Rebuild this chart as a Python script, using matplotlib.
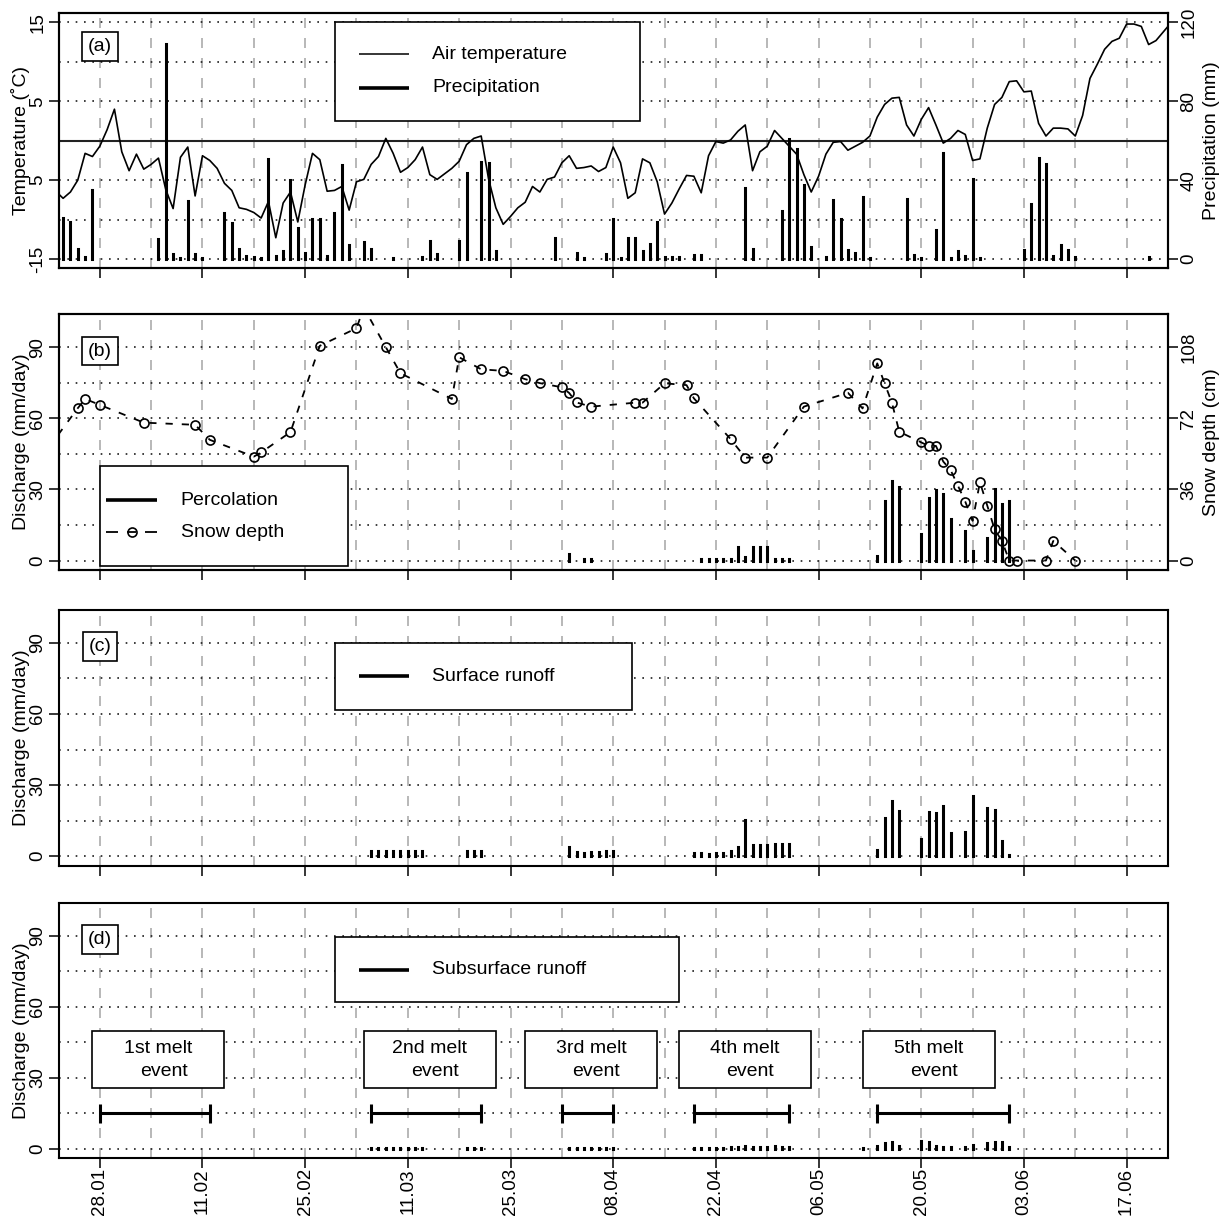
#!/usr/bin/env python3
"""Snowmelt season overview: weather, percolation, surface and subsurface runoff.

Four stacked panels sharing one date axis (28.01 - 17.06).
"""

import matplotlib.dates as mdates
import matplotlib.pyplot as plt
import pandas as pd
from matplotlib.patches import Rectangle

YEAR = 2009

# daily mean air temperature (deg C), first value on temp_start
temp_start = "22.01"
air_temp = [
    -6.4, -7.3, -6.5, -5.0, -1.6, -2.0, -0.7, 1.4, 4.0, -1.4,
    -3.8, -1.7, -3.6, -3.0, -2.2, -6.2, -8.6, -2.1, -0.8, -7.0,
    -1.9, -2.5, -3.5, -5.4, -6.3, -8.5, -8.7, -9.1, -9.8, -7.7,
    -12.3, -7.9, -6.5, -10.3, -5.6, -1.6, -2.4, -6.4, -6.3, -5.8,
    -8.8, -5.2, -4.9, -3.0, -2.0, 0.3, -1.6, -4.0, -3.4, -2.4,
    -0.8, -4.3, -4.9, -4.2, -3.5, -2.6, -0.5, 0.3, 0.6, -4.8,
    -8.5, -10.6, -9.6, -8.5, -7.8, -5.8, -6.5, -4.9, -4.6, -2.8,
    -1.9, -3.5, -3.4, -3.2, -3.9, -3.4, -0.8, -2.8, -7.3, -6.6,
    -2.3, -2.8, -5.2, -9.3, -7.9, -6.1, -4.4, -4.5, -6.6, -1.9,
    -0.1, -0.3, 0.1, 1.2, 2.0, -3.8, -1.4, -0.7, 1.3, 0.3,
    -0.7, -1.7, -4.3, -6.5, -4.5, -1.7, -0.2, -0.1, -1.2, -0.7,
    -0.2, 0.6, 3.0, 4.6, 5.4, 5.5, 2.0, 0.6, 2.7, 4.2,
    2.0, -0.3, 0.3, 1.3, 0.8, -2.5, -2.3, 1.6, 4.6, 5.5,
    7.5, 7.6, 6.2, 6.3, 2.2, 0.6, 1.6, 1.6, 1.5, 0.6,
    3.2, 7.9, 9.7, 11.6, 12.6, 13.0, 14.8, 14.8, 14.5, 12.2,
    12.7, 13.8, 14.9,
]

# daily precipitation (mm), days without rain left out
precip_dates = [
    "23.01", "24.01", "25.01", "26.01", "27.01", "05.02", "06.02", "07.02",
    "08.02", "09.02", "10.02", "11.02", "14.02", "15.02", "16.02", "17.02",
    "18.02", "19.02", "20.02", "21.02", "22.02", "23.02", "24.02", "25.02",
    "26.02", "27.02", "28.02", "01.03", "02.03", "03.03", "05.03", "06.03",
    "09.03", "13.03", "14.03", "15.03", "18.03", "19.03", "21.03", "22.03",
    "23.03", "31.03", "03.04", "04.04", "07.04", "08.04", "09.04", "10.04",
    "11.04", "12.04", "13.04", "14.04", "15.04", "16.04", "17.04", "19.04",
    "20.04", "26.04", "27.04", "01.05", "02.05", "03.05", "04.05", "05.05",
    "07.05", "08.05", "09.05", "10.05", "11.05", "12.05", "13.05", "18.05",
    "19.05", "20.05", "22.05", "23.05", "24.05", "25.05", "26.05", "27.05",
    "28.05", "03.06", "04.06", "05.06", "06.06", "07.06", "08.06", "09.06",
    "10.06", "20.06",
]
precip_mm = [
    20.6, 18.9, 4.9, 1.2, 34.9, 10.1, 109.0, 2.5,
    0.7, 29.4, 2.5, 0.7, 23.5, 18.1, 4.9, 1.5,
    1.2, 0.7, 50.6, 1.5, 4.1, 40.0, 15.5, 2.9,
    20.1, 20.1, 1.7, 23.6, 47.6, 7.1, 8.8, 5.1,
    0.3, 1.0, 9.1, 2.5, 9.3, 43.4, 49.3, 48.9,
    4.1, 10.5, 3.2, 0.7, 2.5, 20.1, 0.7, 10.8,
    10.8, 4.2, 7.6, 18.9, 1.2, 0.8, 0.8, 2.0,
    2.0, 36.1, 4.9, 24.3, 61.1, 55.8, 37.3, 6.2,
    1.2, 29.9, 20.3, 4.6, 2.9, 31.6, 0.5, 30.4,
    2.0, 0.3, 14.7, 54.0, 0.3, 4.2, 1.5, 40.8,
    0.3, 4.6, 27.7, 51.3, 48.4, 1.5, 7.1, 4.6,
    1.2, 0.8,
]

# snow depth survey (cm)
snow_dates = [
    "21.01", "25.01", "26.01", "28.01", "03.02", "10.02", "12.02", "18.02",
    "19.02", "23.02", "27.02", "04.03", "05.03", "08.03", "10.03", "17.03",
    "18.03", "21.03", "24.03", "27.03", "29.03", "01.04", "02.04", "03.04",
    "05.04", "11.04", "12.04", "15.04", "18.04", "19.04", "24.04", "26.04",
    "29.04", "04.05", "10.05", "12.05", "14.05", "15.05", "16.05", "17.05",
    "20.05", "21.05", "22.05", "23.05", "24.05", "25.05", "26.05", "27.05",
    "28.05", "29.05", "30.05", "31.05", "01.06", "02.06", "06.06", "07.06",
    "10.06",
]
snow_cm = [
    57.0, 77.1, 81.8, 78.8, 69.8, 68.7, 61.1, 52.6,
    54.7, 65.0, 108.7, 117.6, 128.0, 108.0, 94.8, 81.8,
    102.9, 96.8, 96.0, 91.8, 89.8, 87.7, 84.8, 80.0,
    77.9, 79.9, 79.9, 89.7, 88.8, 82.1, 61.5, 52.1,
    52.1, 77.9, 84.9, 77.0, 99.8, 89.7, 79.9, 65.2,
    59.8, 58.0, 58.0, 50.1, 45.8, 37.9, 29.8, 20.1,
    39.6, 27.8, 15.8, 9.9, 0.0, 0.0, 0.0, 9.9,
    0.0,
]

# percolation (mm/day)
perc_dates = [
    "02.04", "04.04", "05.04", "20.04", "21.04", "22.04", "23.04", "24.04",
    "25.04", "26.04", "27.04", "28.04", "29.04", "30.04", "01.05", "02.05",
    "14.05", "15.05", "16.05", "17.05", "20.05", "21.05", "22.05", "23.05",
    "24.05", "26.05", "27.05", "29.05", "30.05", "31.05", "01.06",
]
perc_mm = [
    2.8, 0.6, 0.6, 0.6, 0.6, 0.6, 0.6, 0.6,
    5.5, 1.5, 5.8, 5.8, 5.8, 0.8, 0.8, 0.8,
    2.0, 24.9, 33.7, 30.9, 11.1, 26.3, 29.8, 27.9,
    17.6, 12.6, 4.2, 9.4, 30.1, 23.9, 25.3,
]

# surface runoff (mm/day)
surf_dates = [
    "06.03", "07.03", "08.03", "09.03", "10.03", "11.03", "12.03", "13.03",
    "19.03", "20.03", "21.03",
    "02.04", "03.04", "04.04", "05.04", "06.04", "07.04", "08.04",
    "19.04", "20.04", "21.04", "22.04", "23.04", "24.04", "25.04", "26.04",
    "27.04", "28.04", "29.04", "30.04", "01.05", "02.05",
    "14.05", "15.05", "16.05", "17.05", "20.05", "21.05", "22.05", "23.05",
    "24.05", "26.05", "27.05", "29.05", "30.05", "31.05", "01.06",
]
surf_mm = [
    2.3, 2.3, 2.3, 2.3, 2.3, 2.3, 2.3, 2.3,
    2.3, 2.3, 2.3,
    3.9, 1.7, 1.4, 1.7, 1.7, 2.2, 2.2,
    1.2, 1.2, 1.0, 1.2, 1.5, 2.0, 4.0, 15.2,
    4.6, 4.6, 4.6, 5.3, 5.3, 5.3,
    2.5, 16.3, 23.3, 19.1, 7.4, 18.7, 18.3, 21.2,
    10.0, 10.3, 25.4, 20.5, 19.4, 6.5, 0.4,
]

# subsurface runoff (mm/day)
sub_dates = [
    "06.03", "07.03", "08.03", "09.03", "10.03", "11.03", "12.03", "13.03",
    "19.03", "20.03", "21.03",
    "02.04", "03.04", "04.04", "05.04", "06.04", "07.04", "08.04",
    "19.04", "20.04", "21.04", "22.04", "23.04", "24.04", "25.04", "26.04",
    "27.04", "28.04", "29.04", "30.04", "01.05", "02.05",
    "12.05", "14.05", "15.05", "16.05", "17.05", "20.05", "21.05", "22.05",
    "23.05", "24.05", "26.05", "27.05", "29.05", "30.05", "31.05", "01.06",
]
sub_mm = [
    0.4, 0.4, 0.4, 0.4, 0.4, 0.4, 0.4, 0.4,
    0.4, 0.4, 0.4,
    0.4, 0.4, 0.4, 0.4, 0.4, 0.4, 0.4,
    0.4, 0.4, 0.4, 0.5, 0.5, 0.6, 0.8, 1.0,
    0.6, 0.8, 0.8, 1.0, 0.8, 0.8,
    0.4, 1.0, 2.4, 3.1, 1.3, 3.4, 3.1, 1.3,
    0.7, 0.7, 0.7, 1.7, 2.4, 2.7, 2.7, 0.7,
]

# melt events
event_names = ["1st melt\nevent", "2nd melt\nevent", "3rd melt\nevent",
               "4th melt\nevent", "5th melt\nevent"]
event_start = ["28.01", "06.03", "01.04", "19.04", "14.05"]
event_end = ["12.02", "21.03", "08.04", "02.05", "01.06"]
event_label_at = ["05.02", "14.03", "05.04", "26.04", "21.05"]

tick_labels = ["28.01", "11.02", "25.02", "11.03", "25.03", "08.04",
               "22.04", "06.05", "20.05", "03.06", "17.06"]
temp_ticks = [-15, -5, 5, 15]
temp_tick_text = ["-15", "5", "5", "15"]
precip_ticks = [0, 40, 80, 120]
flow_ticks = [0, 30, 60, 90]
snow_ticks = [0, 36, 72, 108]


def to_dates(labels):
    return pd.to_datetime([f"{s}.{YEAR}" for s in labels], format="%d.%m.%Y")


plt.rcParams["font.family"] = ["Liberation Sans", "DejaVu Sans"]
plt.rcParams["font.size"] = 14

FS = 14
TICK_FS = 13.5
GRID_GREY = "#ababab"

ticks = to_dates(tick_labels)
first, last = ticks[0], ticks[-1]
pad = (last - first) * 0.04
weeks = pd.date_range(first, last, freq="7D")


def stems(ax, dates, values, lw=2.2):
    ax.vlines(to_dates(dates), 0, values, colors="black", linewidth=lw,
              capstyle="projecting", zorder=3)


def grid(ax, dotted, solid=()):
    for d in weeks:
        ax.axvline(d, color=GRID_GREY, lw=1.2, ls=(0, (6, 6)), zorder=1)
    for y in dotted:
        ax.axhline(y, color="#1e1e1e", lw=1.2, ls=(0, (1, 4)), zorder=1)
    for y in solid:
        ax.axhline(y, color="#222222", lw=1.5, zorder=2)


def style(ax, show_dates=False):
    ax.set_xlim(first - pad, last + pad)
    for sp in ax.spines.values():
        sp.set_linewidth(1.5)
    ax.tick_params(direction="out", length=7, width=1.1)
    ax.tick_params(axis="y", pad=2)
    ax.tick_params(axis="x", pad=0)
    if show_dates:
        ax.set_xticks(ticks, tick_labels, rotation=90, fontsize=TICK_FS)
    else:
        ax.set_xticks(ticks, [])


def yticks(ax, values, text=None):
    text = text or [str(v) for v in values]
    ax.set_yticks(values, text, rotation=90, va="center", fontsize=TICK_FS)


def ylabel(ax, text, right=False):
    ax.set_ylabel(text, fontsize=FS)
    ax.yaxis.set_label_coords(1.032 if right else -0.026, 0.5)


def panel_tag(ax, tag, y):
    ax.text(0.0372, y, tag, transform=ax.transAxes, ha="center", va="center",
            fontsize=FS, zorder=12,
            bbox=dict(boxstyle="square,pad=0.3", fc="white", ec="black", lw=1.2))


def legend_box(ax, box, rows, line_x, text_x):
    x0, y0, x1, y1 = box
    ax.add_patch(Rectangle((x0, y0), x1 - x0, y1 - y0, transform=ax.transAxes,
                           facecolor="white", edgecolor="black", lw=1.2,
                           zorder=10, clip_on=False))
    lx0, lx1 = line_x
    for kind, y, label in rows:
        kw = dict(transform=ax.transAxes, color="black", zorder=11,
                  solid_capstyle="butt", clip_on=False)
        if kind == "thin":
            ax.plot([lx0, lx1], [y, y], lw=1.1, **kw)
        elif kind == "thick":
            ax.plot([lx0, lx1], [y, y], lw=2.6, **kw)
        else:
            w = lx1 - lx0
            ax.plot([lx0, lx0 + 0.24 * w], [y, y], lw=1.3, **kw)
            ax.plot([lx1 - 0.24 * w, lx1], [y, y], lw=1.3, **kw)
            mid = 0.5 * (lx0 + lx1)
            ax.plot([mid - 0.08 * w, mid + 0.08 * w], [y, y], lw=1.3, **kw)
            ax.plot([mid], [y], marker="o", ms=6.5, mfc="none", mec="black",
                    mew=1.2, ls="none", transform=ax.transAxes, zorder=11,
                    clip_on=False)
        ax.text(text_x, y, label, transform=ax.transAxes, ha="left",
                va="center", fontsize=FS, zorder=11)


fig = plt.figure(figsize=(12.29, 12.20), dpi=100)
LEFT, WIDTH = 0.04776, 0.90236
ax_a = fig.add_axes([LEFT, 0.77992, WIDTH, 0.20943])
ax_b = fig.add_axes([LEFT, 0.53279, WIDTH, 0.20984])
ax_c = fig.add_axes([LEFT, 0.29041, WIDTH, 0.20984])
ax_d = fig.add_axes([LEFT, 0.05057, WIDTH, 0.20951])

# (a) air temperature and precipitation
temp_dates = pd.date_range(to_dates([temp_start])[0], periods=len(air_temp))
grid(ax_a, [-15, -10, -5, 5, 10, 15], solid=[0])
ax_a.plot(temp_dates, air_temp, color="black", lw=1.2, zorder=3)
ax_a.set_ylim(-16.2, 16.2)
style(ax_a)
yticks(ax_a, temp_ticks, temp_tick_text)
ylabel(ax_a, "Temperature (˚C)")

tw_a = ax_a.twinx()
stems(tw_a, precip_dates, precip_mm)
tw_a.set_ylim(-4.8, 124.8)
style(tw_a)
yticks(tw_a, precip_ticks)
ylabel(tw_a, "Precipitation (mm)", right=True)
legend_box(tw_a, (0.249, 0.577, 0.524, 0.965),
           [("thin", 0.838, "Air temperature"), ("thick", 0.708, "Precipitation")],
           (0.271, 0.316), 0.337)
panel_tag(tw_a, "(a)", 0.868)

# (b) percolation and snow depth
flow_grid = [0, 15, 30, 45, 60, 75, 90]
grid(ax_b, flow_grid)
stems(ax_b, perc_dates, perc_mm)
ax_b.set_ylim(-4, 104)
style(ax_b)
yticks(ax_b, flow_ticks)
ylabel(ax_b, "Discharge (mm/day)")

tw_b = ax_b.twinx()
tw_b.plot(to_dates(snow_dates), snow_cm, color="black", lw=1.3,
          ls=(0, (4, 5)), marker="o", ms=6.5, mfc="none", mec="black",
          mew=1.2, zorder=4)
tw_b.set_ylim(-4.8, 124.8)
style(tw_b)
yticks(tw_b, snow_ticks)
ylabel(tw_b, "Snow depth (cm)", right=True)
legend_box(tw_b, (0.0372, 0.0168, 0.261, 0.407),
           [("thick", 0.273, "Percolation"), ("snow", 0.147, "Snow depth")],
           (0.0427, 0.0886), 0.110)
panel_tag(tw_b, "(b)", 0.855)

# (c) surface runoff
grid(ax_c, flow_grid)
stems(ax_c, surf_dates, surf_mm)
ax_c.set_ylim(-4, 104)
style(ax_c)
yticks(ax_c, flow_ticks)
ylabel(ax_c, "Discharge (mm/day)")
legend_box(ax_c, (0.249, 0.608, 0.517, 0.870),
           [("thick", 0.741, "Surface runoff")], (0.271, 0.316), 0.337)
panel_tag(ax_c, "(c)", 0.855)

# (d) subsurface runoff with melt events
grid(ax_d, flow_grid)
stems(ax_d, sub_dates, sub_mm)
ax_d.set_ylim(-4, 104)
style(ax_d, show_dates=True)
yticks(ax_d, flow_ticks)
ylabel(ax_d, "Discharge (mm/day)")
legend_box(ax_d, (0.249, 0.610, 0.559, 0.867),
           [("thick", 0.737, "Subsurface runoff")], (0.271, 0.316), 0.337)
panel_tag(ax_d, "(d)", 0.855)

starts, ends = to_dates(event_start), to_dates(event_end)
ax_d.hlines([15] * len(starts), starts, ends, colors="black", lw=2.2, zorder=5)
ax_d.vlines(list(starts) + list(ends), 11, 19, colors="black", lw=2.2, zorder=5)
for name, at in zip(event_names, mdates.date2num(to_dates(event_label_at))):
    ax_d.add_patch(Rectangle((at - 9, 25.9), 18, 23.9, facecolor="white",
                             edgecolor="black", lw=1.2, zorder=10))
    top, bottom = name.split("\n")
    ax_d.text(at, 42.2, top, ha="center", va="center", fontsize=FS, zorder=11)
    ax_d.text(at + 0.7, 32.5, bottom, ha="center", va="center", fontsize=FS,
              zorder=11)

fig.savefig("out.png", dpi=100)
